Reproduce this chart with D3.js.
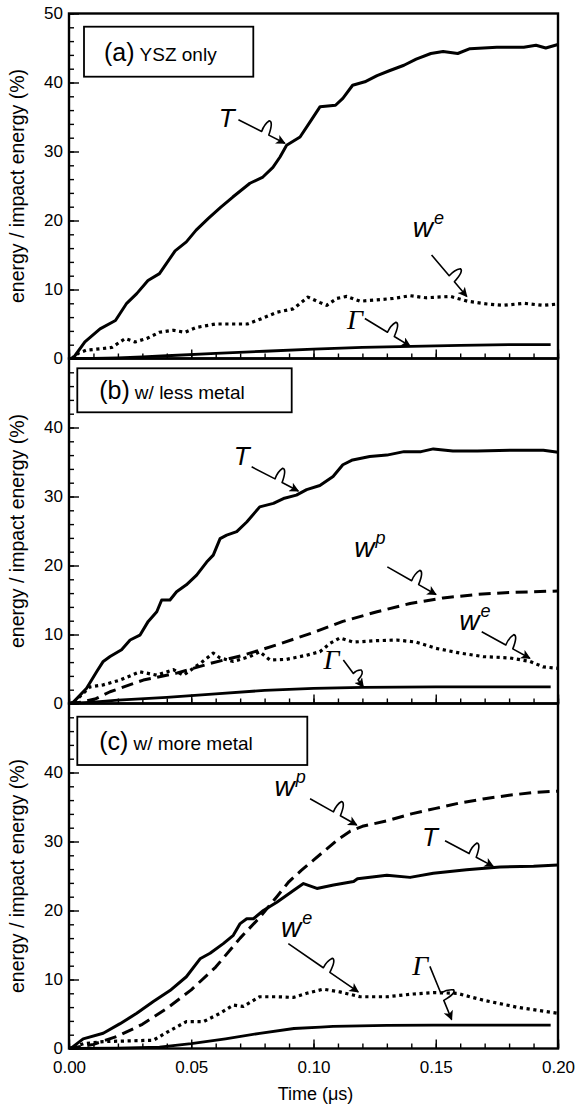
<!DOCTYPE html>
<html><head><meta charset="utf-8">
<script src="https://cdn.jsdelivr.net/npm/d3@7/dist/d3.min.js"></script>
<style>body{margin:0;background:#fff}svg{display:block}</style>
</head><body><svg id="c" width="577" height="1104"></svg>
<script>
// ---------- data (time in µs, value in %) ----------
const xTicks = [0.00, 0.05, 0.10, 0.15, 0.20];
const yTicksA = [0, 10, 20, 30, 40, 50];
const yTicksBC = [0, 10, 20, 30, 40];
const panelTitles = [["(a)", "YSZ only"], ["(b)", "w/ less metal"], ["(c)", "w/ more metal"]];

const aT = [[0,0],[0.0016,0],[0.0065,2.4],[0.0127,4.3],[0.019,5.5],[0.0236,8.0],[0.0277,9.4],[0.0323,11.3],[0.037,12.3],[0.0434,15.6],[0.048,16.9],[0.052,18.6],[0.057,20.3],[0.062,21.9],[0.067,23.4],[0.074,25.4],[0.0793,26.3],[0.0834,27.7],[0.0863,29.2],[0.089,30.9],[0.0945,32.1],[0.0986,34.3],[0.1027,36.5],[0.109,36.7],[0.112,37.7],[0.116,39.6],[0.121,40.1],[0.126,41.0],[0.131,41.7],[0.137,42.5],[0.142,43.4],[0.148,44.2],[0.153,44.5],[0.159,44.2],[0.164,44.9],[0.175,45.1],[0.186,45.1],[0.191,45.4],[0.195,45.0],[0.2,45.5]];
const aWe = [[0.001,0],[0.004,0.8],[0.007,1.2],[0.0127,1.4],[0.0175,1.6],[0.023,2.9],[0.027,2.4],[0.0318,2.9],[0.037,3.8],[0.0426,4.1],[0.0474,3.8],[0.052,4.5],[0.060,5.0],[0.067,5.0],[0.073,5.0],[0.079,5.8],[0.085,6.7],[0.0917,7.2],[0.0977,8.9],[0.1027,8.1],[0.1054,7.7],[0.1095,8.7],[0.1136,9.0],[0.119,8.3],[0.126,8.5],[0.1325,8.7],[0.1395,9.1],[0.146,8.8],[0.156,9.0],[0.163,8.3],[0.171,7.9],[0.1775,7.7],[0.186,8.0],[0.194,7.7],[0.2,7.9]];
const aG = [[0,0],[0.01,0.02],[0.02,0.1],[0.03,0.25],[0.04,0.4],[0.06,0.75],[0.08,1.05],[0.10,1.35],[0.12,1.6],[0.14,1.75],[0.16,1.9],[0.18,2.0],[0.197,2.0]];

const bT = [[0,0],[0.0018,0.2],[0.0072,2.2],[0.0113,4.6],[0.014,6.1],[0.0168,6.8],[0.0215,7.8],[0.025,9.2],[0.029,9.9],[0.0324,11.9],[0.0359,13.3],[0.0379,15.0],[0.0413,15.0],[0.044,16.2],[0.048,17.2],[0.0522,18.6],[0.0563,20.5],[0.059,21.5],[0.0618,23.9],[0.0645,24.4],[0.0686,24.9],[0.0727,26.3],[0.078,28.5],[0.0836,29.0],[0.0877,29.7],[0.093,30.2],[0.0972,31.0],[0.1026,31.6],[0.108,32.9],[0.112,34.6],[0.116,35.3],[0.123,35.8],[0.13,36.0],[0.137,36.5],[0.144,36.5],[0.149,36.9],[0.157,36.6],[0.167,36.6],[0.1804,36.7],[0.194,36.7],[0.2,36.4]];
const bWp = [[0,0],[0.005,0.2],[0.011,0.7],[0.0168,1.7],[0.0304,3.4],[0.044,4.4],[0.0577,5.8],[0.0713,7.0],[0.085,8.5],[0.1,10.3],[0.112,11.9],[0.126,13.3],[0.1395,14.5],[0.153,15.3],[0.1667,15.8],[0.18,16.1],[0.2,16.3]];
const bWe = [[0.002,0.2],[0.0086,2.4],[0.014,2.7],[0.0209,3.4],[0.029,4.6],[0.0359,4.1],[0.0427,4.9],[0.0468,4.1],[0.0536,5.8],[0.059,7.3],[0.0618,6.6],[0.0672,6.1],[0.074,6.8],[0.078,7.5],[0.0822,6.3],[0.089,6.4],[0.0972,7.0],[0.1026,7.5],[0.1067,8.7],[0.1108,9.5],[0.1163,8.9],[0.1258,9.1],[0.134,9.2],[0.142,8.9],[0.150,8.0],[0.160,7.3],[0.1694,6.8],[0.1804,6.6],[0.1885,6.1],[0.194,5.3],[0.2,5.1]];
const bG = [[0,0],[0.01,0.2],[0.02,0.5],[0.04,0.9],[0.06,1.4],[0.08,1.9],[0.10,2.2],[0.12,2.35],[0.15,2.4],[0.197,2.4]];

const cT = [[0,0],[0.0014,0.2],[0.0058,1.4],[0.014,2.2],[0.0209,3.6],[0.0277,5.1],[0.0345,6.8],[0.0413,8.4],[0.048,10.4],[0.0536,13.0],[0.0577,13.8],[0.0631,15.2],[0.0672,16.4],[0.070,18.1],[0.0727,18.8],[0.0754,18.8],[0.0795,20.0],[0.085,21.2],[0.0918,22.9],[0.0959,23.9],[0.1014,23.2],[0.1082,23.7],[0.1164,24.2],[0.118,24.6],[0.13,25.1],[0.1395,24.8],[0.149,25.4],[0.1626,25.9],[0.1763,26.3],[0.19,26.4],[0.2,26.6]];
const cWp = [[0,0],[0.01,0.6],[0.02,1.8],[0.03,3.5],[0.04,5.8],[0.05,8.5],[0.06,11.8],[0.07,16.0],[0.078,19.0],[0.085,22.0],[0.09,24.2],[0.095,25.8],[0.10,27.3],[0.105,28.8],[0.11,30.3],[0.115,31.5],[0.12,32.2],[0.13,33.0],[0.14,34.0],[0.15,34.8],[0.16,35.6],[0.17,36.2],[0.18,36.7],[0.19,37.1],[0.20,37.3]];
const cWe = [[0.002,0.2],[0.006,0.7],[0.014,1.0],[0.0345,1.2],[0.0413,2.6],[0.048,3.9],[0.055,3.9],[0.0618,5.1],[0.0672,6.3],[0.0713,6.1],[0.078,7.5],[0.085,7.5],[0.0918,7.4],[0.0972,8.0],[0.104,8.6],[0.1108,8.2],[0.119,7.5],[0.13,7.5],[0.1408,7.9],[0.149,8.1],[0.1586,8.0],[0.1695,7.0],[0.183,6.0],[0.2,5.1]];
const cG = [[0,0],[0.02,0.05],[0.037,0.2],[0.05,0.7],[0.064,1.4],[0.078,2.2],[0.092,2.9],[0.103,3.1],[0.108,3.2],[0.13,3.35],[0.149,3.4],[0.197,3.4]];

// annotations: [label, sup, labelT, labelV, startT, startV, tipT, tipV]
const annA = [["T","",0.0645,34.9,0.0693,34.6,0.0883,31.2],["w","e",0.147,18.9,0.1483,15.0,0.1627,9.0],["Γ","",0.117,5.6,0.121,5.8,0.1395,1.8]];
const annB = [["T","",0.0706,35.8,0.0747,34.3,0.0938,30.8],["w","p",0.1231,22.5,0.1302,19.8,0.1501,15.8],["w","e",0.166,11.9,0.1688,10.4,0.1885,6.55],["Γ","",0.1074,6.3,0.1122,6.3,0.1204,2.4]];
const annC = [["w","p",0.0904,37.9,0.0986,36.2,0.1177,32.4],["T","",0.1476,30.6,0.1538,30.1,0.1735,26.4],["w","e",0.0931,17.4,0.0897,15.2,0.1183,8.2],["Γ","",0.1436,11.9,0.1476,11.9,0.1565,4.2]];

// ---------- layout ----------
const svg = d3.select("#c");
const FONT = "'Liberation Sans', Arial, Helvetica, sans-serif";
const left = 69, right = 558, panelH = 345;
const tops = [13.5, 358.5, 703.5];
const x = d3.scaleLinear().domain([0, 0.2]).range([left, right]);

svg.append("defs").append("marker").attr("id","ah").attr("viewBox","0 0 10 10")
  .attr("refX",9).attr("refY",5).attr("markerWidth",7).attr("markerHeight",6)
  .attr("markerUnits","strokeWidth").attr("orient","auto")
  .append("path").attr("d","M0,0 L10,5 L0,10 L2.5,5 Z").attr("fill","#000");

const styles = {
  T: {w: 3, dash: null},
  G: {w: 2.8, dash: null},
  We: {w: 3.2, dash: "3.2,3.6"},
  Wp: {w: 3, dash: "12,6.5"}
};
const boxes = [[84,26.7,253.3,76.7],[77.3,368.3,291.7,412.3],[77.3,716.7,307.3,765]];

const panels = [
  {series:[[aT,"T"],[aWe,"We"],[aG,"G"]], ticks:yTicksA, ann:annA},
  {series:[[bT,"T"],[bWp,"Wp"],[bWe,"We"],[bG,"G"]], ticks:yTicksBC, ann:annB},
  {series:[[cT,"T"],[cWp,"Wp"],[cWe,"We"],[cG,"G"]], ticks:yTicksBC, ann:annC}
];

function styleTicks(sel) {
  sel.select(".domain").remove();
  sel.selectAll("line").attr("stroke","#000").attr("stroke-width",1.4);
}

panels.forEach((p, i) => {
  const top = tops[i], bot = top + panelH;
  const y = d3.scaleLinear().domain([0, 50]).range([bot, top]);
  const g = svg.append("g");
  // series
  const line = d3.line().x(d => x(d[0])).y(d => y(d[1]));
  p.series.forEach(([data, key]) => {
    const s = styles[key];
    g.append("path").attr("d", line(data)).attr("fill","none").attr("stroke","#000")
      .attr("stroke-width", s.w).attr("stroke-linejoin","round")
      .attr("stroke-dasharray", s.dash);
  });
  // y axis ticks (inward)
  g.append("g").attr("transform", `translate(${left},0)`)
    .call(d3.axisRight(y).tickValues(d3.range(0, 51, 2)).tickSize(5).tickFormat("")).call(styleTicks);
  g.append("g").attr("transform", `translate(${left},0)`)
    .call(d3.axisRight(y).tickValues(p.ticks).tickSize(10).tickFormat("")).call(styleTicks);
  // y labels
  const yl = g.append("g").attr("transform", `translate(${left},0)`)
    .call(d3.axisLeft(y).tickValues(p.ticks).tickSize(0).tickPadding(6).tickFormat(d3.format("d")));
  yl.select(".domain").remove();
  yl.selectAll("text").attr("font-family", FONT).attr("font-size", 17).attr("fill","#000");
  // x ticks (inward)
  g.append("g").attr("transform", `translate(0,${bot})`)
    .call(d3.axisTop(x).tickValues(d3.range(0, 21).map(k => k/100)).tickSize(5).tickFormat("")).call(styleTicks);
  g.append("g").attr("transform", `translate(0,${bot})`)
    .call(d3.axisTop(x).tickValues(xTicks).tickSize(9).tickFormat("")).call(styleTicks);
  // frame
  g.append("rect").attr("x", left).attr("y", top).attr("width", right-left).attr("height", panelH)
    .attr("fill","none").attr("stroke","#000").attr("stroke-width",2.4);
  // y title
  g.append("text").attr("transform", `translate(24,${(top+bot)/2}) rotate(-90)`)
    .attr("text-anchor","middle").attr("font-family",FONT).attr("font-size",19.5)
    .text("energy / impact energy (%)");
  // panel label box
  const b = boxes[i];
  g.append("rect").attr("x",b[0]).attr("y",b[1]).attr("width",b[2]-b[0]).attr("height",b[3]-b[1])
    .attr("fill","#fff").attr("stroke","#000").attr("stroke-width",1.8);
  const tt = g.append("text").attr("x", b[0]+ (i===0?20:22)).attr("y", (b[1]+b[3])/2 + 9)
    .attr("font-family",FONT).attr("fill","#000");
  tt.append("tspan").attr("font-size",25).text(panelTitles[i][0]);
  tt.append("tspan").attr("font-size",19).attr("dx",5).text(panelTitles[i][1]);
  // annotations: straight lead, squiggle, straight to arrow tip
  p.ann.forEach(a => {
    const [lab, sup, lt, lv, st, sv, et, ev] = a;
    const S = [x(st), y(sv)], E = [x(et), y(ev)];
    const dx = E[0]-S[0], dy = E[1]-S[1], L = Math.hypot(dx, dy);
    const u = [dx/L, dy/L], n = [u[1], -u[0]];
    const P = (f, off, adv) => [S[0]+f*dx + n[0]*off + u[0]*adv, S[1]+f*dy + n[1]*off + u[1]*adv];
    const h = Math.min(13, L*0.25);
    const A = P(0.5, 0, 0);
    const path = d3.path();
    path.moveTo(S[0], S[1]);
    path.lineTo(A[0], A[1]);
    const B = P(0.5, h, 2), Bc = P(0.5, h*0.6, -1), Bc2 = P(0.5, h*1.1, 6);
    path.quadraticCurveTo(Bc[0], Bc[1], B[0], B[1]);
    const C = P(0.5, 0, 8);
    path.quadraticCurveTo(Bc2[0], Bc2[1], C[0], C[1]);
    path.lineTo(E[0], E[1]);
    g.append("path").attr("d", path.toString())
      .attr("fill","none").attr("stroke","#000").attr("stroke-width",1.6)
      .attr("stroke-linejoin","round").attr("marker-end","url(#ah)");
    const isG = lab === "Γ";
    const t = g.append("text").attr("x", x(lt)).attr("y", y(lv) + 9)
      .attr("text-anchor","middle").attr("font-style","italic")
      .attr("font-family", isG ? "'Liberation Serif', 'DejaVu Serif', serif" : FONT)
      .attr("font-size", isG ? 28 : (lab === "w" ? 28 : 26)).attr("fill","#000");
    t.append("tspan").text(lab);
    if (sup) t.append("tspan").attr("font-size",18).attr("dy",-13).attr("dx",1).text(sup);
  });
});

// x tick labels and title
const xl = svg.append("g").attr("transform", `translate(0,${tops[2]+panelH})`)
  .call(d3.axisBottom(x).tickValues(xTicks).tickSize(0).tickPadding(12).tickFormat(d3.format(".2f")));
xl.select(".domain").remove();
xl.selectAll("text").attr("font-family",FONT).attr("font-size",17).attr("fill","#000");
svg.append("text").attr("x", (left+right)/2 + 2).attr("y", 1100).attr("text-anchor","middle")
  .attr("font-family",FONT).attr("font-size",18).text("Time (μs)");
</script></body></html>
